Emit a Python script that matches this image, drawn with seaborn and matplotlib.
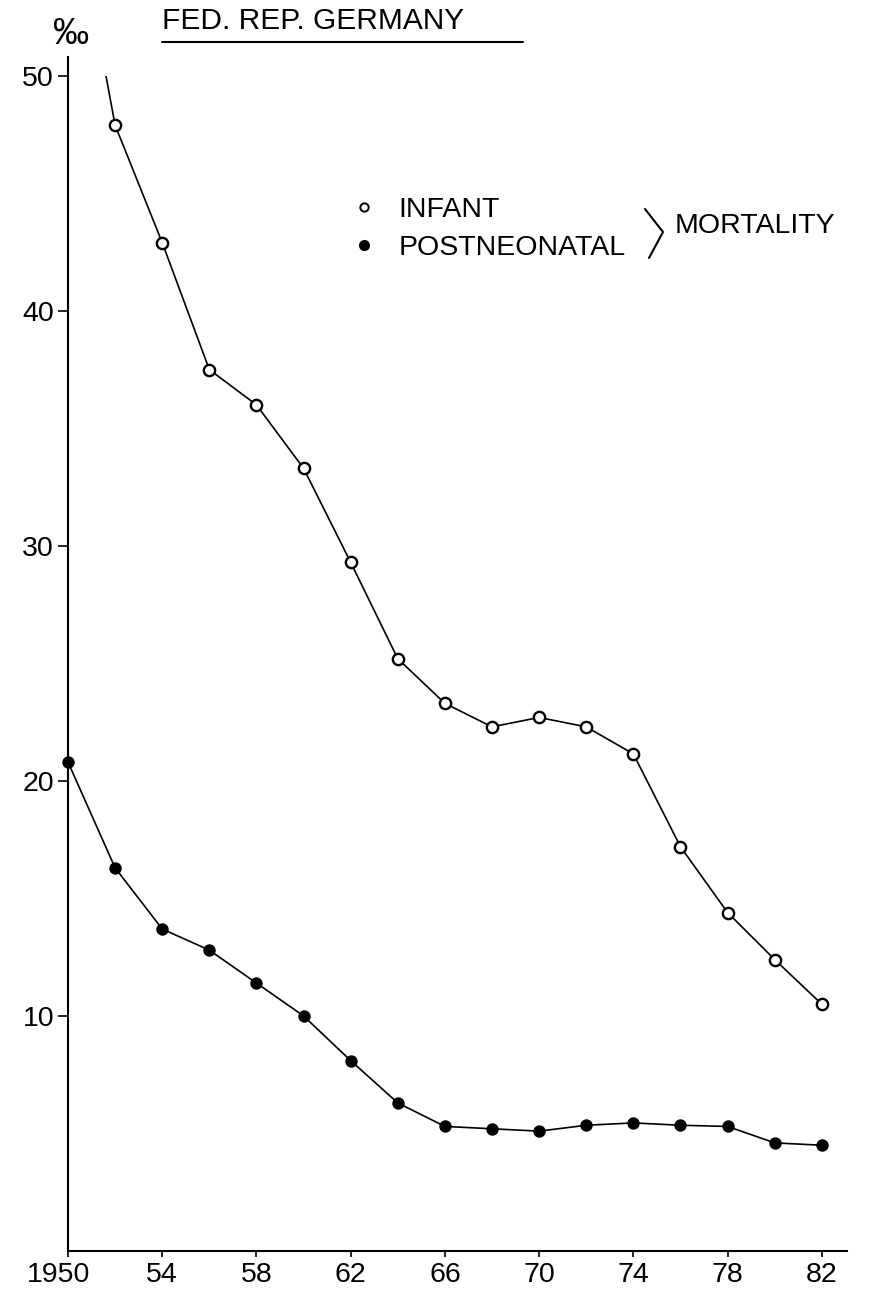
import matplotlib
matplotlib.use("Agg")
import matplotlib.pyplot as plt
import matplotlib.transforms as mtransforms
from matplotlib.lines import Line2D
from matplotlib.patches import Rectangle
import seaborn as sns

# ---------------- data ----------------
years = [1950, 1952, 1954, 1956, 1958, 1960, 1962, 1964, 1966,
         1968, 1970, 1972, 1974, 1976, 1978, 1980, 1982]
postneonatal = [20.8, 16.3, 13.7, 12.8, 11.4, 10.0, 8.1, 6.3, 5.3,
                5.2, 5.1, 5.35, 5.45, 5.35, 5.3, 4.6, 4.5]

infant_years = [1951, 1952, 1954, 1956, 1958, 1960, 1962, 1964, 1966,
                1968, 1970, 1972, 1974, 1976, 1978, 1980, 1982]
infant = [53.3, 47.9, 42.9, 37.5, 36.0, 33.3, 29.3, 25.2, 23.3,
          22.3, 22.7, 22.3, 21.15, 17.2, 14.4, 12.4, 10.5]

x_ticks = [1950, 1954, 1958, 1962, 1966, 1970, 1974, 1978, 1982]
x_tick_labels = ["1950", "54", "58", "62", "66", "70", "74", "78", "82"]
y_ticks = [10, 20, 30, 40, 50]

title = "FED. REP. GERMANY"
unit_label = "\u2030"
series_labels = ["INFANT", "POSTNEONATAL"]
group_label = "MORTALITY"

# ---------------- style ----------------
sns.set_theme(style="ticks")
plt.rcParams['font.family'] = ['Liberation Sans', 'DejaVu Sans']

W, H = 871, 1293
fig = plt.figure(figsize=(W / 100, H / 100), dpi=100)
fig.patch.set_facecolor("white")

def fx(px):
    return px / W

def fy(py):
    return 1 - py / H

ax_left, ax_right, ax_bottom, ax_top = 68, 847, 1251, 57
ax = fig.add_axes([fx(ax_left), fy(ax_bottom),
                   (ax_right - ax_left) / W, (ax_bottom - ax_top) / H])
ax.set_facecolor("white")

FS = 20.5

# infant line (clipped at 50 like the original drawing)
sns.lineplot(x=infant_years, y=infant, ax=ax, color="black", linewidth=1.2,
             sort=False)
infant_line = ax.lines[-1]
clip_rect = Rectangle((1940, -10), 60, 60, transform=ax.transData)
infant_line.set_clip_path(clip_rect)

sns.scatterplot(x=infant_years[1:], y=infant[1:], ax=ax, marker="o", s=66,
                color="white", edgecolor="black", linewidth=1.7, zorder=3)

# postneonatal
sns.lineplot(x=years, y=postneonatal, ax=ax, color="black", linewidth=1.2,
             sort=False)
sns.scatterplot(x=years, y=postneonatal, ax=ax, marker="o", s=80,
                color="black", edgecolor="black", linewidth=0, zorder=3,
                clip_on=False)

ax.set_xlim(1950, 1983.07)
ax.set_ylim(0, 50.8)
ax.set_xticks(x_ticks, x_tick_labels)
ax.set_yticks(y_ticks)
ax.set_xlabel("")
ax.set_ylabel("")

sns.despine(ax=ax)
for side in ("left", "bottom"):
    ax.spines[side].set_linewidth(1.5)
    ax.spines[side].set_color("black")

ax.tick_params(axis="y", direction="out", length=7, width=1.2, pad=3.0,
               labelsize=FS, colors="black")
ax.tick_params(axis="x", direction="out", length=4.5, width=1.2, pad=3.5,
               labelsize=FS, colors="black")

# shift the "1950" label slightly left as in the original
lab0 = ax.get_xticklabels()[0]
lab0.set_transform(lab0.get_transform() +
                   mtransforms.ScaledTranslation(-9 / 100, 0, fig.dpi_scale_trans))

# unit label
fig.text(fx(71), fy(34), unit_label, ha="center", va="center",
         fontsize=26, color="black")

# title with underline
fig.text(fx(162), fy(21), title, ha="left", va="center", fontsize=21.5,
         color="black")
fig.add_artist(Line2D([fx(162), fx(523)], [fy(42), fy(42)], color="black",
                      linewidth=1.5))

# legend
handles = [
    Line2D([], [], marker="o", linestyle="none", markerfacecolor="white",
           markeredgecolor="black", markersize=6.0, markeredgewidth=1.4),
    Line2D([], [], marker="o", linestyle="none", markerfacecolor="black",
           markeredgecolor="black", markersize=8.0, markeredgewidth=0),
]
leg = ax.legend(handles=handles, labels=series_labels, loc="center left",
                bbox_to_anchor=(fx(350), fy(229)),
                bbox_transform=fig.transFigure, frameon=False, fontsize=FS,
                handlelength=0.95, handletextpad=0.75, labelspacing=0.45,
                borderpad=0, borderaxespad=0)
for t in leg.get_texts():
    t.set_color("black")

# bracket and group label
fig.add_artist(Line2D([fx(645), fx(663), fx(649)],
                      [fy(209), fy(232), fy(258)], color="black",
                      linewidth=1.5))
fig.text(fx(675), fy(226), group_label, ha="left", va="center", fontsize=FS,
         color="black")

fig.savefig("out.png", dpi=100, facecolor="white")
